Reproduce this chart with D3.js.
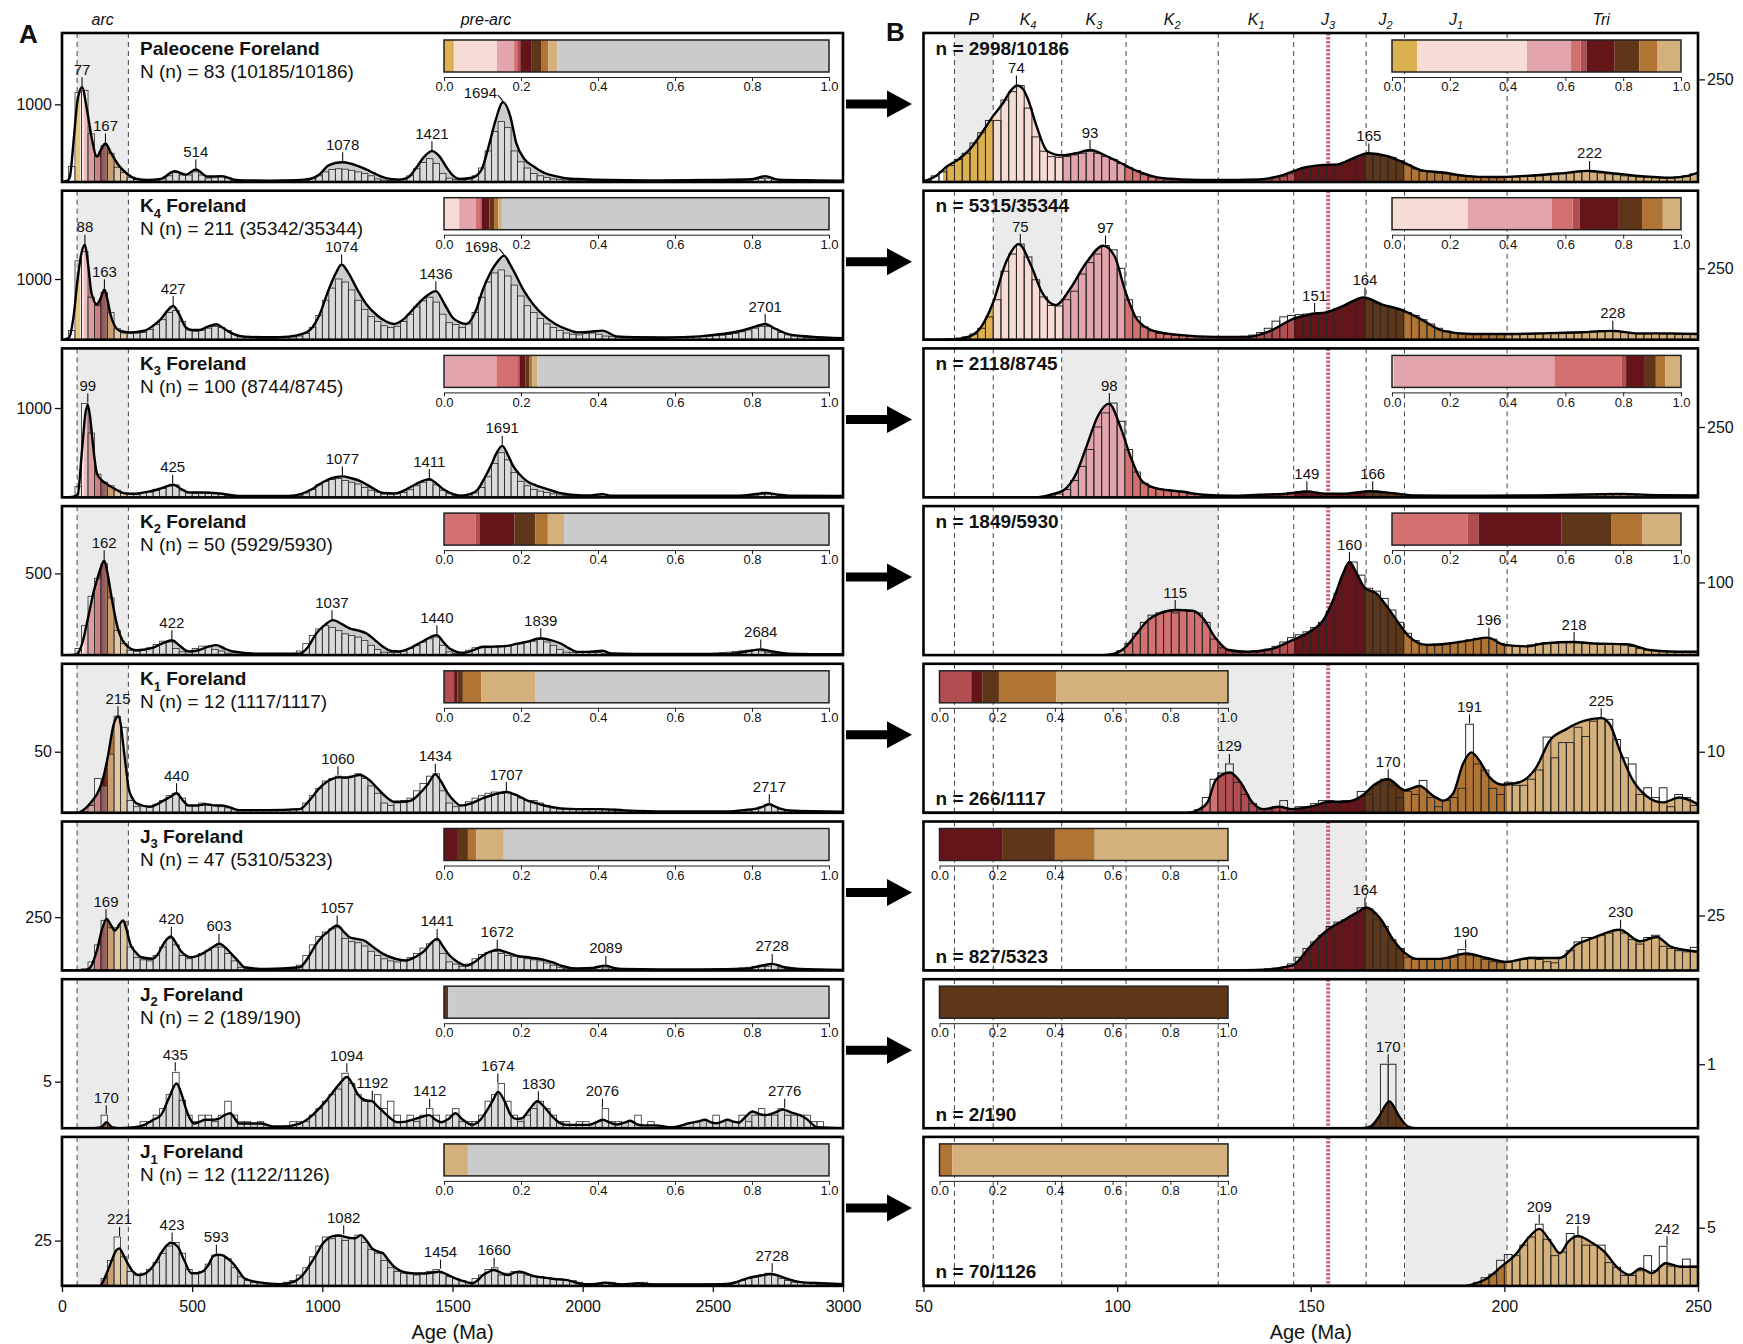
<!DOCTYPE html>
<html>
<head>
<meta charset="utf-8">
<script src="https://cdn.jsdelivr.net/npm/d3@7"></script>
<style>
  body { margin: 0; background: #fff; }
  svg text { font-family: "Liberation Sans", Arial, sans-serif; fill: #111; }
</style>
</head>
<body>
<svg id="fig" width="1743" height="1344"></svg>
<script>
// ---------- data ----------

// period boundaries (Ma): P, K4, K3, K2, K1, J3, J2, J1, Tri
var periodBounds = [58, 68, 85.7, 102.3, 126.1, 145.6, 164.3, 174.2, 200.7];
var periodLabels = [['P', ''], ['K', '4'], ['K', '3'], ['K', '2'], ['K', '1'], ['J', '3'], ['J', '2'], ['J', '1'], ['Tri', '']];
var periodLabelAges = [63, 77, 94, 114.2, 135.9, 154.5, 169.3, 187.5, 225];
var j3Marker = 154.5;
var arcBounds = [58, 255];
// colour bands of the age axis: <55 white, then the nine periods, >255 pre-arc
var bandEdges = [55, 68, 85.7, 102.3, 126.1, 145.6, 164.3, 174.2, 200.7, 255];

var rowTitles = [['Paleocene', '', ' Foreland'], ['K', '4', ' Foreland'], ['K', '3', ' Foreland'], ['K', '2', ' Foreland'],
                 ['K', '1', ' Foreland'], ['J', '3', ' Foreland'], ['J', '2', ' Foreland'], ['J', '1', ' Foreland']];
var nGrains = [83, 211, 100, 50, 12, 47, 2, 12];
var nDated = [10185, 35342, 8744, 5929, 1117, 5310, 189, 1122];
var nTotal = [10186, 35344, 8745, 5930, 1117, 5323, 190, 1126];
var nArc = [2998, 5315, 2118, 1849, 266, 827, 2, 70];

// share of each period within the arc-age grains (P, K4, K3, K2, K1, J3, J2, J1, Tri)
var arcShares = [
  [0.087, 0.380, 0.152, 0.034, 0.020, 0.096, 0.087, 0.063, 0.081],
  [0.003, 0.259, 0.290, 0.073, 0.025, 0.135, 0.080, 0.072, 0.063],
  [0, 0.005, 0.557, 0.232, 0.016, 0.065, 0.038, 0.033, 0.054],
  [0, 0, 0, 0.262, 0.038, 0.287, 0.173, 0.105, 0.135],
  [0, 0, 0, 0, 0.110, 0.038, 0.058, 0.198, 0.596],
  [0, 0, 0, 0, 0, 0.217, 0.183, 0.138, 0.462],
  [0, 0, 0, 0, 0, 0, 1, 0, 0],
  [0, 0, 0, 0, 0, 0, 0, 0.044, 0.956]
];

var yTickA = [1000, 1000, 1000, 500, 50, 250, 5, 25];
var yMaxA = [1918, 2455, 1667, 912, 122, 698, 16, 82.2];
var yTickB = [250, 250, 250, 100, 10, 25, 1, 5];
var yMaxB = [363, 522, 529, 205, 24.4, 67.7, 2.33, 12.8];

var peaksA = [
  [77, 167, 514, 1078, 1421, 1694],
  [88, 163, 427, 1074, 1436, 1698, 2701],
  [99, 425, 1077, 1411, 1691],
  [162, 422, 1037, 1440, 1839, 2684],
  [215, 440, 1060, 1434, 1707, 2717],
  [169, 420, 603, 1057, 1441, 1672, 2089, 2728],
  [170, 435, 1094, 1192, 1412, 1674, 1830, 2076, 2776],
  [221, 423, 593, 1082, 1454, 1660, 2728]
];
var peaksB = [[74, 93, 165, 222], [75, 97, 151, 164, 228], [98, 149, 166], [115, 160, 196, 218],
              [129, 170, 191, 225], [164, 190, 230], [170], [209, 219, 242]];

// density curves, [age Ma, count]
var kdeA_P = [[0,0],[20,15],[30,60],[45,545],[60,1060],[77,1220],[96,930],[113,590],[134,330],[150,420],[167,495],[188,375],[220,205],[252,100],[284,42],[330,25],[380,40],[433,140],[476,95],[514,160],[560,70],[615,75],[660,30],[700,20],[800,18],[900,22],[956,42],[990,100],[1020,205],[1050,245],[1078,255],[1110,235],[1140,200],[1170,160],[1200,110],[1230,65],[1260,40],[1300,30],[1330,60],[1360,180],[1390,320],[1421,397],[1450,330],[1475,200],[1500,90],[1530,40],[1575,55],[1610,150],[1639,460],[1666,800],[1694,1028],[1722,845],[1745,500],[1775,300],[1809,205],[1850,120],[1895,75],[1940,45],[1980,38],[2100,25],[2300,20],[2500,25],[2650,35],[2701,75],[2750,30],[2900,20],[3000,15]];
var kdeA_K4 = [[0,0],[15,10],[28,40],[45,400],[60,1000],[75,1430],[88,1566],[100,1250],[113,775],[134,585],[150,700],[163,830],[175,650],[188,390],[220,150],[262,120],[316,147],[350,230],[380,340],[405,480],[427,555],[450,420],[476,200],[500,160],[529,160],[560,215],[593,255],[620,190],[646,120],[700,50],[800,40],[870,50],[920,90],[956,175],[990,420],[1020,775],[1050,1080],[1074,1240],[1100,1100],[1134,830],[1170,580],[1212,395],[1245,300],[1276,258],[1310,330],[1340,460],[1361,560],[1400,720],[1436,800],[1470,580],[1500,366],[1530,280],[1553,258],[1590,480],[1617,830],[1645,1100],[1671,1275],[1698,1385],[1720,1250],[1745,1050],[1775,800],[1809,590],[1850,400],[1895,260],[1940,170],[1980,120],[2030,130],[2076,150],[2130,55],[2200,40],[2322,37],[2450,55],[2535,93],[2620,160],[2665,220],[2701,258],[2740,180],[2790,93],[2876,50],[3000,25]];
var kdeA_K3 = [[0,0],[40,5],[60,30],[77,530],[90,940],[99,1035],[108,900],[117,645],[134,272],[150,200],[167,160],[209,85],[240,45],[273,41],[337,67],[380,100],[427,142],[460,90],[486,56],[540,55],[593,48],[640,30],[679,17],[870,17],[920,40],[956,85],[990,150],[1020,197],[1050,225],[1077,235],[1110,215],[1148,180],[1190,110],[1233,50],[1280,45],[1319,85],[1360,150],[1411,205],[1440,150],[1468,85],[1500,40],[1532,20],[1570,40],[1596,85],[1620,200],[1649,365],[1670,500],[1691,577],[1712,480],[1734,346],[1760,250],[1788,178],[1820,135],[1852,104],[1916,48],[1980,25],[2030,22],[2076,37],[2108,20],[2600,20],[2660,35],[2705,50],[2750,30],[2790,20],[3000,15]];
var kdeA_K2 = [[0,0],[50,3],[60,9],[81,91],[95,190],[109,296],[122,390],[134,458],[148,530],[162,580],[175,500],[188,377],[200,270],[213,173],[241,71],[284,30],[320,35],[358,51],[390,75],[422,91],[450,60],[486,22],[520,28],[560,50],[593,61],[625,40],[657,22],[764,8],[913,9],[945,50],[977,133],[1010,185],[1041,214],[1075,190],[1105,163],[1140,150],[1169,133],[1200,95],[1233,51],[1265,25],[1297,22],[1340,45],[1383,82],[1440,122],[1465,80],[1489,41],[1543,14],[1580,30],[1617,51],[1660,52],[1703,55],[1750,70],[1788,82],[1839,103],[1880,90],[1916,71],[1950,40],[1980,20],[2030,20],[2076,27],[2110,10],[2200,7],[2550,7],[2599,14],[2640,25],[2684,35],[2730,22],[2790,9],[3000,5]];
var kdeA_K1 = [[0,0],[60,0],[81,2],[113,9],[145,20],[160,30],[177,47],[198,72],[216,79],[226,72],[235,56],[245,38],[256,20],[270,12],[284,8],[337,5],[390,10],[415,13],[440,16],[465,10],[486,6],[520,6],[550,7],[590,6],[615,6],[650,4],[679,2.2],[785,2.2],[913,3],[950,10],[988,20],[1015,25],[1041,28],[1060,29],[1100,29],[1143,31],[1180,27],[1212,20],[1245,13],[1276,9],[1310,9],[1340,10],[1370,15],[1404,23],[1434,31.5],[1455,26],[1479,17],[1505,10],[1532,6],[1575,8],[1617,12],[1660,15],[1707,17],[1750,14],[1788,10],[1820,8],[1852,6],[1916,3.6],[1980,3],[2066,3],[2162,2],[2322,1.2],[2550,1.2],[2620,2.2],[2680,4],[2717,7],[2750,4],[2790,2],[3000,1]];
var kdeA_J3 = [[0,0],[81,0],[100,5],[113,23],[134,94],[156,203],[171,242],[187,215],[203,187],[220,215],[235,234],[248,190],[262,125],[283,85],[305,62],[348,55],[370,80],[390,125],[418,159],[437,130],[455,94],[497,62],[520,68],[550,86],[580,110],[604,125],[630,105],[657,70],[680,40],[700,15],[785,7],[913,15],[945,60],[977,125],[1000,160],[1020,180],[1057,211],[1080,185],[1105,156],[1130,148],[1159,141],[1195,110],[1233,78],[1280,55],[1319,47],[1360,65],[1394,94],[1415,125],[1441,148],[1465,110],[1489,70],[1520,40],[1553,23],[1585,40],[1617,70],[1645,88],[1672,97],[1700,88],[1745,70],[1800,60],[1852,50],[1885,38],[1916,23],[1980,10],[2040,12],[2087,23],[2120,12],[2151,7],[2300,5],[2550,6],[2620,8],[2680,20],[2727,31],[2775,15],[2833,7],[3000,3]];
var kdeA_J2 = [[0,0],[120,0],[150,0.1],[171,0.64],[192,0.1],[220,0],[280,0.1],[316,0.36],[350,0.9],[380,1.4],[410,3.2],[440,4.8],[460,3.6],[476,2.1],[492,1.0],[508,0.5],[530,0.7],[550,0.9],[575,0.9],[600,1.0],[625,1.4],[646,1.6],[665,1.0],[679,0.5],[720,0.5],[764,0.5],[810,0.2],[849,0.2],[913,0.5],[945,1.0],[977,1.8],[1010,2.8],[1041,3.9],[1070,4.9],[1094,5.5],[1115,4.8],[1137,3.6],[1165,3.0],[1191,2.9],[1210,2.4],[1233,1.8],[1260,1.1],[1287,0.64],[1320,0.7],[1345,0.9],[1380,1.2],[1410,1.4],[1435,0.9],[1457,0.64],[1485,1.0],[1511,1.6],[1540,0.9],[1575,0.36],[1600,0.7],[1630,1.8],[1655,3.0],[1675,3.9],[1700,2.9],[1724,1.4],[1745,1.0],[1767,1.07],[1795,2.0],[1826,2.9],[1855,2.2],[1884,1.25],[1910,0.6],[1937,0.36],[2023,0.36],[2050,0.6],[2076,0.9],[2105,0.6],[2130,0.4],[2160,0.6],[2183,0.8],[2210,0.4],[2236,0.3],[2279,0.3],[2343,0.1],[2380,0.3],[2407,0.53],[2440,0.7],[2471,0.9],[2495,0.6],[2514,0.53],[2535,0.7],[2556,0.9],[2580,0.7],[2599,0.6],[2625,1.2],[2652,1.8],[2680,1.5],[2705,1.4],[2740,1.7],[2770,2.0],[2800,1.7],[2834,1.4],[2860,1.0],[2880,0.5],[2898,0.1],[3000,0]];
var kdeA_J1 = [[0,0],[145,0],[166,5.1],[180,10],[194,15.2],[208,19.5],[220,20.7],[236,17],[252,12.5],[272,8],[294,6],[315,6.5],[337,8.8],[360,13],[380,18],[400,22],[418,23.9],[444,21.7],[470,14],[497,7],[520,7],[540,7.9],[560,11],[582,16.5],[600,17.2],[615,17],[637,15],[657,12.5],[680,8],[700,4.2],[764,1.8],[838,1],[892,2.4],[925,6],[956,12.5],[980,18],[998,22.6],[1020,26],[1041,27.5],[1062,27.8],[1084,27.2],[1105,26.5],[1127,26.3],[1148,28],[1170,25],[1191,20.7],[1212,19],[1233,18],[1255,14],[1276,10.6],[1305,8],[1340,7],[1370,6.8],[1404,7],[1430,7.5],[1451,7.9],[1480,6.2],[1511,4.2],[1545,2.5],[1575,1.5],[1600,3.5],[1617,6],[1640,7.8],[1660,8.8],[1690,7],[1713,6],[1735,7.2],[1756,7.9],[1785,6.8],[1809,5.5],[1840,4.8],[1873,4.2],[1905,3.6],[1937,3.3],[1970,2],[2001,1],[2040,1],[2087,1.8],[2120,1.2],[2151,0.8],[2190,1.2],[2215,1.5],[2250,0.9],[2322,0.8],[2450,0.8],[2535,0.9],[2590,2],[2631,4.2],[2680,5.6],[2727,6.6],[2760,5.3],[2790,3.7],[2820,2.5],[2855,1.8],[2919,1.5],[3000,1]];

var kdeB_P = [[50,1],[53.3,15],[56.2,39],[59,55],[62,80],[64.8,116],[68,161],[70.6,193],[72.5,222],[74.2,235],[75.8,225],[77,201],[79.2,136],[82,75],[85.7,65],[89.3,70],[93.1,78],[96.4,67],[100.8,47],[105.1,27],[110.8,10.6],[116.6,6.5],[125.2,5],[136.7,6.5],[142.5,16],[148.2,35],[152.5,41],[156.9,43],[161.2,59],[164.8,70],[169.8,63],[174.1,47],[178.4,29],[184.2,23],[189.9,15],[197.1,12],[205.7,15],[214.4,21],[221.6,27],[227.3,22],[234.5,15],[243.1,10.6],[247.4,15],[250,23]];
var kdeB_K4 = [[50,0],[57.6,0],[61.9,11.6],[64.8,43],[68,131],[71.3,271],[74.6,335],[77.8,259],[80.6,166],[84.2,121],[87.8,177],[92.1,271],[96.4,329],[99.3,294],[102.2,166],[105.1,72],[109.4,31],[116.6,16],[125.2,10],[133.8,10],[139.6,31],[145.3,72],[150.4,90],[154,96],[158.3,118],[163.7,148],[168.3,124],[174.1,101],[178.4,72],[184.2,31],[191.4,20],[201.4,20],[211.5,23],[220.1,26],[228,31],[234.5,22],[243.1,22],[250,20]];
var kdeB_K3 = [[50,0],[79.2,0],[83.5,12],[86.4,27],[89.3,81],[92.1,181],[95,288],[97.9,333],[100.8,252],[103.6,140],[106.5,57],[110.8,30],[116.6,21],[122.3,9.5],[129.5,6],[136.7,9.5],[143.9,13],[148.9,21],[154,13],[158.3,13],[165.5,22],[171.2,15],[177,7],[194.2,6],[208.6,7],[230.2,12],[240.3,8],[250,7]];
var kdeB_K2 = [[50,0],[96.4,0],[99.3,2],[102.2,11],[105.1,30],[108,48],[110.8,57],[115.1,62],[119.5,61],[122.3,50],[125.2,25],[128.8,7],[133.8,4.6],[139.6,8],[145.3,20.6],[149.7,32],[153.2,48],[156.1,80],[158.3,112],[160,128],[161.9,112],[164,92],[166.9,85],[169.8,66],[172.7,44],[175.5,25],[179.9,14],[185.6,16],[191.4,20.6],[195.7,24],[200,14],[205.7,12],[210,16],[218,18],[223,16],[231.6,15],[237.4,7],[244.6,4.6],[250,4.6]];
var kdeB_K1 = [[50,0],[118,0],[121,0.5],[123.4,1.8],[125.5,5.4],[129.1,6.6],[132,4.9],[134.8,1.8],[137.7,0.6],[142,1],[144.9,0.6],[150.6,1.1],[154.9,1.8],[159.2,1.8],[163.5,2.9],[166.4,4.6],[170,5.5],[174.3,3.7],[178.1,4.4],[181.6,2.8],[184.2,2.0],[186.8,3.2],[189.3,8],[191.5,9.9],[193.6,8.5],[196.2,5.8],[199.6,4.6],[203.9,5],[208.2,7.4],[211.7,11.8],[216,13.7],[220.3,15],[225,15.5],[227.2,14.5],[229.8,10.2],[233.2,5.3],[236.6,2.8],[240.9,1.7],[245.2,2.5],[250,1.4]];
var kdeB_J3 = [[50,0],[129.4,0],[136.3,0.2],[145.3,2.3],[149.7,10.6],[154,18],[158.3,22.6],[161.9,26.3],[164.4,28.6],[168,23.5],[171.3,14],[174.3,8],[177.3,5.3],[183.3,5.3],[190.2,7.7],[195.4,5.7],[200.5,3.9],[206.6,5.7],[214.3,5.7],[218.6,11.7],[222.9,14.8],[229.8,18.5],[235,13.3],[239.3,15.2],[242.8,11],[247.1,9.2],[250,8.5]];
var kdeB_J2 = [[50,0],[163.5,0],[165.5,0.03],[167.5,0.17],[170.3,0.42],[173,0.17],[175,0.03],[177,0],[250,0]];
var kdeB_J1 = [[50,0],[189.9,0],[192.8,0.23],[195.6,0.66],[199.2,1.65],[202.8,2.66],[206.4,4.2],[209,4.9],[212.2,3.66],[214.3,2.8],[216.5,3.8],[218.9,4.3],[222.2,3.8],[225.8,2.95],[229.4,1.5],[232.3,0.95],[235.2,1.5],[238.1,1.1],[241.7,1.95],[245.3,1.65],[250,1.65]];

// histogram counts; A: 25 Ma bins from 0 Ma, B: 2 Ma bins from 50 Ma
var binA = 25, binB = 2;
var histA_P = [0,200,1150,1180,620,330,470,370,190,120,60,30,
  20,25,30,40,80,120,90,90,130,90,50,55,
  65,50,25,15,12,10,10,8,10,8,10,12,
  15,25,40,80,130,160,170,165,150,130,110,80,
  40,25,20,25,40,80,170,250,300,240,110,50,
  30,25,40,80,180,400,650,780,700,400,260,180,
  110,80,60,40,30,25,20,15,12,10,10,10,
  8,8,10,8,6,8,10,8,8,10,12,10,
  10,12,10,15,12,15,18,20,25,30,35,45,
  50,35,20,12,10,8,8,6,5,5,4,3];
var histA_K4 = [0,150,1300,1450,700,560,780,450,180,110,100,110,
  120,170,250,330,450,480,300,160,140,160,190,220,
  200,150,90,60,40,30,25,25,25,30,35,45,
  60,100,200,400,650,850,1000,950,820,650,500,380,
  300,230,200,220,300,420,540,640,700,620,420,280,
  250,200,260,450,700,950,1100,1150,1050,900,720,560,
  450,350,260,200,150,110,90,80,100,110,90,60,
  50,40,35,30,30,28,25,25,28,30,35,40,
  45,50,55,60,65,75,85,100,130,160,190,220,
  220,180,120,80,60,45,35,30,25,20,15,10];
var histA_K3 = [0,5,120,1050,720,260,170,130,80,50,35,30,
  55,60,75,100,130,140,80,50,45,50,45,40,
  35,25,15,12,10,10,10,8,10,10,12,15,
  25,50,90,140,180,200,210,190,170,150,110,80,
  60,40,35,40,55,85,130,170,190,140,80,40,
  25,20,30,50,110,230,380,500,420,280,180,130,
  90,70,55,40,28,20,15,12,15,20,15,10,
  8,8,8,8,8,8,8,8,8,8,8,8,
  8,8,10,10,10,12,12,15,15,20,25,35,
  40,30,15,10,8,6,5,5,4,4,3,3];
var histA_K2 = [0,0,40,180,360,470,560,350,150,70,30,25,
  30,45,65,85,80,40,20,25,40,55,55,35,
  25,12,6,5,4,4,4,5,5,6,8,10,
  25,70,120,160,180,170,150,130,120,110,90,60,
  35,18,15,18,25,40,60,80,100,110,60,20,
  10,15,30,45,45,45,50,55,60,65,70,80,
  85,95,80,60,35,18,15,18,20,25,15,8,
  5,5,5,5,5,5,5,5,5,5,5,5,
  5,6,8,10,12,15,18,22,26,30,30,25,
  15,10,8,6,5,4,4,3,3,2,2,2];
var histA_K1 = [0,0,0,1,6,28,22,48,79,70,10,5,
  6,5,7,10,14,16,12,6,6,8,7,6,
  5,4,3,2,2,2,2,2,2,2,2,3,
  3,8,14,20,26,28,30,28,30,32,28,22,
  16,8,6,8,10,12,18,24,30,32,18,8,
  5,6,9,12,14,16,17,16,17,15,12,10,
  10,8,6,4,3,3,3,3,3,3,3,3,
  3,2,2,1,1,1,1,1,1,1,1,1,
  1,1,1,1,1,1,1,1,2,2,3,5,
  7,5,3,2,2,1,1,1,1,1,1,1];
var histA_J3 = [0,0,0,8,40,120,235,200,200,230,110,60,
  50,45,70,110,150,120,70,55,65,80,95,110,
  110,80,45,15,8,6,5,5,5,6,8,12,
  25,70,120,160,180,195,200,150,135,130,115,90,
  70,55,45,40,45,60,80,105,125,140,80,40,
  30,20,30,55,75,85,90,80,70,65,60,55,
  50,45,35,25,15,10,8,6,8,12,20,12,
  6,5,5,4,4,4,4,4,4,4,5,5,
  5,5,6,6,7,8,8,10,12,15,20,25,
  20,28,12,6,5,4,4,3,3,3,2,2];
var histA_J2 = [0,0,0,0,0,0,1.4,0,0,0,0,0,
  0.7,0.7,1.4,2.1,3.6,6.0,3.0,1.4,0.7,1.4,1.4,0.7,
  1.4,2.9,1.4,0.7,0.7,0,0.7,0,0,0,0,0.7,
  0.7,0.7,1.4,2.1,2.9,3.6,4.2,5.9,4.8,3.6,2.9,2.9,
  3.6,2.1,2.9,1.4,0.7,1.4,0.7,1.4,2.1,1.4,0.7,1.4,
  2.1,0.7,0.7,0.7,1.4,2.9,3.6,4.8,2.9,1.4,0.7,1.4,
  2.1,2.9,2.1,1.4,0.7,0.7,0,0.7,0.7,0,0.7,2.1,
  0.7,0.7,0,0.7,1.4,0,0.7,0,0,0,0,0,
  0,0.7,0,0.7,1.4,0.7,0,0.7,1.4,0.7,1.4,2.1,
  1.4,1.4,2.1,1.4,1.4,1.4,1.4,0.7,0.7,0,0,0];
var histA_J1 = [0,0,0,0,0,0,4,14,27,16,8,6,
  7,9,13,18,22,24,18,9,7,8,12,17,
  17,15,10,5,3,2,2,1,1,1,2,3,
  6,10,16,22,27,26,28,25,26,28,24,20,
  18,14,10,8,7,7,6,7,8,9,7,5,
  4,3,2,4,6,9,10,6,7,8,7,6,
  5,5,4,4,4,3,3,2,1,1,1,2,
  2,1,1,1,1,2,1,1,1,1,1,1,
  1,1,1,1,1,1,1,2,3,4,5,6,
  7,6,4,3,2,2,2,2,1,1,1,1];

var histB_P = [5,15,25,40,55,70,95,120,150,150,
  200,220,235,180,110,75,62,60,62,66,
  70,75,70,62,55,45,35,28,18,12,
  8,6,5,4,4,3,3,3,3,3,
  3,3,4,5,7,10,14,20,28,35,
  38,40,40,42,48,55,62,68,66,64,
  60,52,42,32,26,24,22,20,17,15,
  13,12,12,11,11,12,12,13,14,15,
  17,18,20,22,24,26,24,22,20,18,
  15,14,12,11,10,9,10,12,15,20];
var histB_K4 = [0,0,2,4,6,10,20,40,80,140,
  240,300,335,290,210,150,120,118,140,170,
  230,270,300,330,315,250,140,80,45,30,
  22,18,15,14,12,10,10,10,10,10,
  10,12,16,25,40,65,80,85,88,90,
  93,95,100,110,118,130,145,140,128,120,
  112,105,95,85,70,55,40,30,24,20,
  18,18,18,18,18,18,20,20,22,22,
  22,24,25,26,27,28,30,32,30,28,
  25,22,20,20,22,20,20,18,18,18];
var histB_K3 = [0,0,0,0,0,0,0,0,0,0,
  0,0,0,0,0,2,5,12,28,60,
  110,170,250,300,335,270,170,90,50,35,
  30,25,22,18,12,10,8,6,5,5,
  5,6,7,8,10,12,14,18,20,22,
  18,14,12,12,14,16,18,22,20,16,
  14,10,8,7,6,6,6,6,5,5,
  5,5,6,6,6,6,6,6,7,7,
  7,8,8,9,9,10,10,11,12,12,
  11,10,9,8,8,8,7,7,7,7];
var histB_K2 = [0,0,0,0,0,0,0,0,0,0,
  0,0,0,0,0,0,0,0,0,0,
  0,0,0,0,1,6,16,30,45,55,
  58,60,58,62,60,58,45,22,10,6,
  4,4,5,6,8,12,18,24,28,32,
  38,45,60,85,110,128,110,92,88,78,
  62,45,30,20,15,14,14,16,17,19,
  21,23,24,22,16,13,12,12,14,16,
  17,16,18,18,17,16,16,15,15,15,
  14,12,9,7,6,5,5,5,5,5];
var histB_K1 = [0,0,0,0,0,0,0,0,0,0,
  0,0,0,0,0,0,0,0,0,0,
  0,0,0,0,0,0,0,0,0,0,
  0,0,0,0,0,0.5,2.5,5.5,6.5,8,
  5,3,1.5,0.5,0.5,1,2,0.5,1,1,
  1.5,2,2,1.5,2,2,3.5,3,4.5,5.5,
  4.5,2.5,3.5,3,5.3,2.5,1,2,2.5,4,
  14.5,8,7,4,3,5,4.5,4.5,5.5,7,
  12.4,9,11.5,11.5,14,12.5,15,15.5,15.3,12,
  9,8,3,4.1,2.5,4.1,1,3,2.5,1.2];
var histB_J3 = [0,0,0,0,0,0,0,0,0,0,
  0,0,0,0,0,0,0,0,0,0,
  0,0,0,0,0,0,0,0,0,0,
  0,0,0,0,0,0,0,0,0,0,
  0,0,0.3,0.5,0.8,1,1.5,3,6,10,
  13,16,20,22,23,25,28.5,28,23,20,
  14,10,6,5,5,5,5,5.5,6,9.5,
  7,6.5,5,4,3.5,4,4.5,5,6,5,
  4,3.5,6,9,13,15,15,16,17,18.5,
  17,14,12,15,16,11,10,9,8.5,10.5];
var histB_J2 = [0,0,0,0,0,0,0,0,0,0,
  0,0,0,0,0,0,0,0,0,0,
  0,0,0,0,0,0,0,0,0,0,
  0,0,0,0,0,0,0,0,0,0,
  0,0,0,0,0,0,0,0,0,0,
  0,0,0,0,0,0,0,0,0,1,
  1,0,0,0,0,0,0,0,0,0,
  0,0,0,0,0,0,0,0,0,0,
  0,0,0,0,0,0,0,0,0,0,
  0,0,0,0,0,0,0,0,0,0];
var histB_J1 = [0,0,0,0,0,0,0,0,0,0,
  0,0,0,0,0,0,0,0,0,0,
  0,0,0,0,0,0,0,0,0,0,
  0,0,0,0,0,0,0,0,0,0,
  0,0,0,0,0,0,0,0,0,0,
  0,0,0,0,0,0,0,0,0,0,
  0,0,0,0,0,0,0,0,0,0,
  0,0.3,0.7,1,2.2,2.7,2.6,3.5,4.2,5.3,
  4,2.6,2.9,4.5,4.2,3.5,3.5,3.5,2,1.6,
  0.9,0.9,1.3,2.6,1.3,3.4,1.7,1.7,2.3,1.7];

var kdeA = [kdeA_P, kdeA_K4, kdeA_K3, kdeA_K2, kdeA_K1, kdeA_J3, kdeA_J2, kdeA_J1];
var kdeB = [kdeB_P, kdeB_K4, kdeB_K3, kdeB_K2, kdeB_K1, kdeB_J3, kdeB_J2, kdeB_J1];
var histA = [histA_P, histA_K4, histA_K3, histA_K2, histA_K1, histA_J3, histA_J2, histA_J1];
var histB = [histB_P, histB_K4, histB_K3, histB_K2, histB_K1, histB_J3, histB_J2, histB_J1];

// ---------- styling / layout ----------
var periodColors = ['#dcb04e', '#f7dcd5', '#e3a5ad', '#d2716f', '#b24d52', '#65151a', '#5f3618', '#b07535', '#d4b07d'];
var preArcColor = '#cbcbcb';
var bandColors = ['#ffffff'].concat(periodColors).concat([preArcColor]);
var shadeColor = '#ebebeb';

var rowTop0 = 33, rowStep = 157.7, rowH = 149;
var xA = d3.scaleLinear().domain([0, 3000]).range([62, 843]);
var xB = d3.scaleLinear().domain([50, 250]).range([923.5, 1698]);
var fmtInt = d3.format('d');

var svg = d3.select('#fig');
var defs = svg.append('defs');

var bandGradient = function(id, x) {
  var r = x.range(), dom = x.domain();
  var grad = defs.append('linearGradient').attr('id', id)
    .attr('gradientUnits', 'userSpaceOnUse')
    .attr('x1', r[0]).attr('x2', r[1]).attr('y1', 0).attr('y2', 0);
  var off = function(a) { return (x(a) - r[0]) / (r[1] - r[0]); };
  for (var i = 0; i < bandColors.length; i++) {
    var lo = i === 0 ? dom[0] : Math.max(dom[0], bandEdges[i - 1]);
    var hi = i === bandColors.length - 1 ? dom[1] : Math.min(dom[1], bandEdges[i]);
    if (hi <= lo) continue;
    grad.append('stop').attr('offset', off(lo)).attr('stop-color', bandColors[i]);
    grad.append('stop').attr('offset', off(hi)).attr('stop-color', bandColors[i]);
  }
};

// linear read of the key points, only used to place peak labels
var curveValueAt = function(pts, a) {
  if (a <= pts[0][0]) return pts[0][1];
  for (var k = 1; k < pts.length; k++) {
    if (a <= pts[k][0]) {
      var p = pts[k - 1], q = pts[k];
      return p[1] + (q[1] - p[1]) * (a - p[0]) / (q[0] - p[0]);
    }
  }
  return pts[pts.length - 1][1];
};

var subText = function(sel, parts, size, subSize) {
  sel.append('tspan').text(parts[0]);
  if (parts[1]) {
    sel.append('tspan').text(parts[1]).attr('font-size', subSize).attr('dy', size * 0.28);
    sel.append('tspan').text(parts[2] || '').attr('dy', -size * 0.28);
  } else if (parts[2]) {
    sel.append('tspan').text(parts[2]);
  }
};

var drawInset = function(g, x0, x1, pTop, segs) {
  var s = d3.scaleLinear().domain([0, 1]).range([x0, x1]);
  g.selectAll(null).data(segs).enter().append('rect')
    .attr('x', function(d) { return s(d.from); })
    .attr('width', function(d) { return s(d.to) - s(d.from); })
    .attr('y', pTop + 7).attr('height', 32)
    .attr('fill', function(d) { return d.color; });
  g.append('rect').attr('x', x0).attr('y', pTop + 7).attr('width', x1 - x0).attr('height', 32)
    .attr('fill', 'none').attr('stroke', '#222').attr('stroke-width', 1.5);
  var ax = g.append('g').attr('transform', 'translate(0,' + (pTop + 44) + ')')
    .call(d3.axisBottom(s).tickValues([0, 0.2, 0.4, 0.6, 0.8, 1]).tickFormat(d3.format('.1f'))
      .tickSize(4).tickSizeOuter(0).tickPadding(1));
  ax.selectAll('text').attr('font-size', 13).attr('fill', '#111');
  ax.selectAll('line, path').attr('stroke', '#222');
};

var drawPanel = function(o) {
  var r = o.x.range();
  var g = svg.append('g');
  defs.append('clipPath').attr('id', 'clip' + o.id).append('rect')
    .attr('x', r[0]).attr('y', o.pTop).attr('width', r[1] - r[0]).attr('height', o.pBottom - o.pTop);
  var inner = g.append('g').attr('clip-path', 'url(#clip' + o.id + ')');

  inner.append('rect').attr('x', o.x(o.shade[0])).attr('width', o.x(o.shade[1]) - o.x(o.shade[0]))
    .attr('y', o.pTop).attr('height', o.pBottom - o.pTop).attr('fill', shadeColor);
  inner.selectAll(null).data(o.dashes).enter().append('line')
    .attr('x1', function(d) { return o.x(d); }).attr('x2', function(d) { return o.x(d); })
    .attr('y1', o.pTop).attr('y2', o.pBottom)
    .attr('stroke', '#444').attr('stroke-width', 1).attr('stroke-dasharray', '5,4');
  if (o.marker != null) {
    inner.append('line').attr('x1', o.x(o.marker)).attr('x2', o.x(o.marker))
      .attr('y1', o.pTop).attr('y2', o.pBottom)
      .attr('stroke', '#c8687a').attr('stroke-width', 4).attr('stroke-dasharray', '2.5,1.5');
  }

  bandGradient('grad' + o.id, o.x);
  var area = d3.area().x(function(d) { return o.x(d[0]); }).y0(o.pBottom)
    .y1(function(d) { return o.y(d[1]); }).curve(d3.curveMonotoneX);
  inner.append('path').datum(o.kde).attr('d', area).attr('fill', 'url(#grad' + o.id + ')');

  var bins = o.hist.map(function(v, k) { return { x0: o.start + k * o.binW, v: v }; })
    .filter(function(b) { return b.v > 0; });
  inner.selectAll(null).data(bins).enter().append('rect')
    .attr('x', function(b) { return o.x(b.x0); })
    .attr('width', function(b) { return o.x(b.x0 + o.binW) - o.x(b.x0); })
    .attr('y', function(b) { return o.y(b.v); })
    .attr('height', function(b) { return o.pBottom - o.y(b.v); })
    .attr('fill', o.barFill).attr('stroke', '#2a2a2a').attr('stroke-width', o.barStroke);

  var line = d3.line().x(function(d) { return o.x(d[0]); })
    .y(function(d) { return o.y(d[1]); }).curve(d3.curveMonotoneX);
  inner.append('path').datum(o.kde).attr('d', line).attr('fill', 'none')
    .attr('stroke', '#000').attr('stroke-width', 2.4).attr('stroke-linejoin', 'round');

  // peak labels; a label that would sit on the inset's axis is moved to the left of its peak
  o.peaks.forEach(function(a) {
    var m = 0;
    for (var s = -o.win; s <= o.win + 1e-9; s += o.win / 5) m = Math.max(m, curveValueAt(o.kde, a + s));
    o.hist.forEach(function(v, k) {
      var b0 = o.start + k * o.binW;
      if (b0 < a + o.win * 0.5 && b0 + o.binW > a - o.win * 0.5) m = Math.max(m, v);
    });
    var px = o.x(a), py = o.y(m);
    var w = String(a).length * 8.4;
    var clash = (py - 24 < o.inset.y1) && (px + w / 2 > o.inset.x0 - 8) && (px - w / 2 < o.inset.x1 + 8);
    if (clash) {
      g.append('line').attr('x1', px).attr('x2', px - 5).attr('y1', py - 1).attr('y2', py - 7)
        .attr('stroke', '#111').attr('stroke-width', 1.1);
      g.append('text').attr('x', px - 6).attr('y', py - 4).attr('text-anchor', 'end')
        .attr('font-size', 15).text(a);
    } else {
      g.append('line').attr('x1', px).attr('x2', px).attr('y1', py - 1).attr('y2', py - 10)
        .attr('stroke', '#111').attr('stroke-width', 1.1);
      g.append('text').attr('x', px).attr('y', py - 12.5).attr('text-anchor', 'middle')
        .attr('font-size', 15).text(a);
    }
  });
  return g;
};

// ---------- rows ----------
for (var i = 0; i < 8; i++) {
  var pTop = rowTop0 + i * rowStep, pBottom = pTop + rowH;
  var yA = d3.scaleLinear().domain([0, yMaxA[i]]).range([pBottom, pTop]);
  var yB = d3.scaleLinear().domain([0, yMaxB[i]]).range([pBottom, pTop]);
  var insetA = [444, 829];
  var insetB = i < 4 ? [1392, 1681] : [939.5, 1228];

  // panel A
  var gA = drawPanel({ id: 'A' + i, x: xA, y: yA, kde: kdeA[i], hist: histA[i], start: 0, binW: binA,
    pTop: pTop, pBottom: pBottom, shade: arcBounds, dashes: arcBounds, marker: null,
    peaks: peaksA[i], win: 15, barFill: 'rgba(255,255,255,0.3)', barStroke: 0.8,
    inset: { x0: insetA[0], x1: insetA[1], y1: pTop + 62 } });
  var fracArc = nArc[i] / nTotal[i], acc = 0, segsA = [];
  arcShares[i].forEach(function(v, k) {
    if (v > 0) segsA.push({ from: acc * fracArc, to: (acc + v) * fracArc, color: periodColors[k] });
    acc += v;
  });
  segsA.push({ from: fracArc, to: 1, color: preArcColor });
  drawInset(gA, insetA[0], insetA[1], pTop, segsA);
  subText(gA.append('text').attr('x', 140).attr('y', pTop + 21.5).attr('font-size', 19)
    .attr('font-weight', 'bold'), rowTitles[i], 19, 13);
  gA.append('text').attr('x', 140).attr('y', pTop + 44.5).attr('font-size', 19)
    .text('N (n) = ' + nGrains[i] + ' (' + nDated[i] + '/' + nTotal[i] + ')');
  gA.append('rect').attr('x', 62).attr('y', pTop).attr('width', 843 - 62).attr('height', rowH)
    .attr('fill', 'none').attr('stroke', '#000').attr('stroke-width', 2.6);
  var ayA = gA.append('g').attr('transform', 'translate(62,0)')
    .call(d3.axisLeft(yA).tickValues([yTickA[i]]).tickFormat(fmtInt).tickSize(7).tickPadding(3));
  ayA.select('.domain').remove();
  ayA.selectAll('text').attr('font-size', 16).attr('fill', '#111');
  ayA.selectAll('line').attr('stroke', '#111').attr('stroke-width', 1.3);

  // panel B
  var gB = drawPanel({ id: 'B' + i, x: xB, y: yB, kde: kdeB[i], hist: histB[i], start: 50, binW: binB,
    pTop: pTop, pBottom: pBottom, shade: [periodBounds[i], periodBounds[i + 1]], dashes: periodBounds,
    marker: j3Marker, peaks: peaksB[i], win: 1.5, barFill: 'none', barStroke: 1,
    inset: { x0: insetB[0], x1: insetB[1], y1: pTop + 62 } });
  var acc2 = 0, segsB = [];
  arcShares[i].forEach(function(v, k) {
    if (v > 0) segsB.push({ from: acc2, to: acc2 + v, color: periodColors[k] });
    acc2 += v;
  });
  var nText = 'n = ' + nArc[i] + '/' + nTotal[i];
  drawInset(gB, insetB[0], insetB[1], pTop, segsB);
  gB.append('text').attr('x', 935.5).attr('y', i < 4 ? pTop + 21.5 : pBottom - 7.5).attr('font-size', 19)
    .attr('font-weight', 'bold').text(nText);
  gB.append('rect').attr('x', 923.5).attr('y', pTop).attr('width', 1698 - 923.5).attr('height', rowH)
    .attr('fill', 'none').attr('stroke', '#000').attr('stroke-width', 2.6);
  var ayB = gB.append('g').attr('transform', 'translate(1698,0)')
    .call(d3.axisRight(yB).tickValues([yTickB[i]]).tickFormat(fmtInt).tickSize(7).tickPadding(2));
  ayB.select('.domain').remove();
  ayB.selectAll('text').attr('font-size', 16).attr('fill', '#111');
  ayB.selectAll('line').attr('stroke', '#111').attr('stroke-width', 1.3);

  // arrow A -> B
  var cy = pTop + 71;
  svg.append('path').attr('fill', '#000')
    .attr('d', 'M846,' + (cy - 4.5) + 'H887V' + (cy - 13.5) + 'L912,' + cy + 'L887,' + (cy + 13.5) +
      'V' + (cy + 4.5) + 'H846Z');
}

// ---------- bottom axes ----------
var lastBottom = rowTop0 + 7 * rowStep + rowH;
var bxA = svg.append('g').attr('transform', 'translate(0,' + lastBottom + ')')
  .call(d3.axisBottom(xA).tickValues([0, 500, 1000, 1500, 2000, 2500, 3000]).tickFormat(fmtInt)
    .tickSize(6).tickPadding(9));
var bxB = svg.append('g').attr('transform', 'translate(0,' + lastBottom + ')')
  .call(d3.axisBottom(xB).tickValues([50, 100, 150, 200, 250]).tickFormat(fmtInt).tickSize(6).tickPadding(9));
[bxA, bxB].forEach(function(a) {
  a.select('.domain').remove();
  a.selectAll('text').attr('font-size', 16).attr('fill', '#111');
  a.selectAll('line').attr('stroke', '#111').attr('stroke-width', 1.3);
});
svg.append('text').attr('x', (62 + 843) / 2).attr('y', 1339).attr('text-anchor', 'middle')
  .attr('font-size', 20).text('Age (Ma)');
svg.append('text').attr('x', (923.5 + 1698) / 2).attr('y', 1339).attr('text-anchor', 'middle')
  .attr('font-size', 20).text('Age (Ma)');

// ---------- headings ----------
svg.append('text').attr('x', 19).attr('y', 43).attr('font-size', 26).attr('font-weight', 'bold').text('A');
svg.append('text').attr('x', 886).attr('y', 41).attr('font-size', 26).attr('font-weight', 'bold').text('B');
svg.append('text').attr('x', xA((arcBounds[0] + arcBounds[1]) / 2)).attr('y', 25).attr('text-anchor', 'middle')
  .attr('font-size', 16).attr('font-style', 'italic').text('arc');
svg.append('text').attr('x', 486).attr('y', 25).attr('text-anchor', 'middle')
  .attr('font-size', 16).attr('font-style', 'italic').text('pre-arc');
periodLabels.forEach(function(p, k) {
  var t = svg.append('text').attr('x', xB(periodLabelAges[k])).attr('y', 25).attr('text-anchor', 'middle')
    .attr('font-size', 16).attr('font-style', 'italic');
  subText(t, p, 16, 11);
});
</script>
</body>
</html>
